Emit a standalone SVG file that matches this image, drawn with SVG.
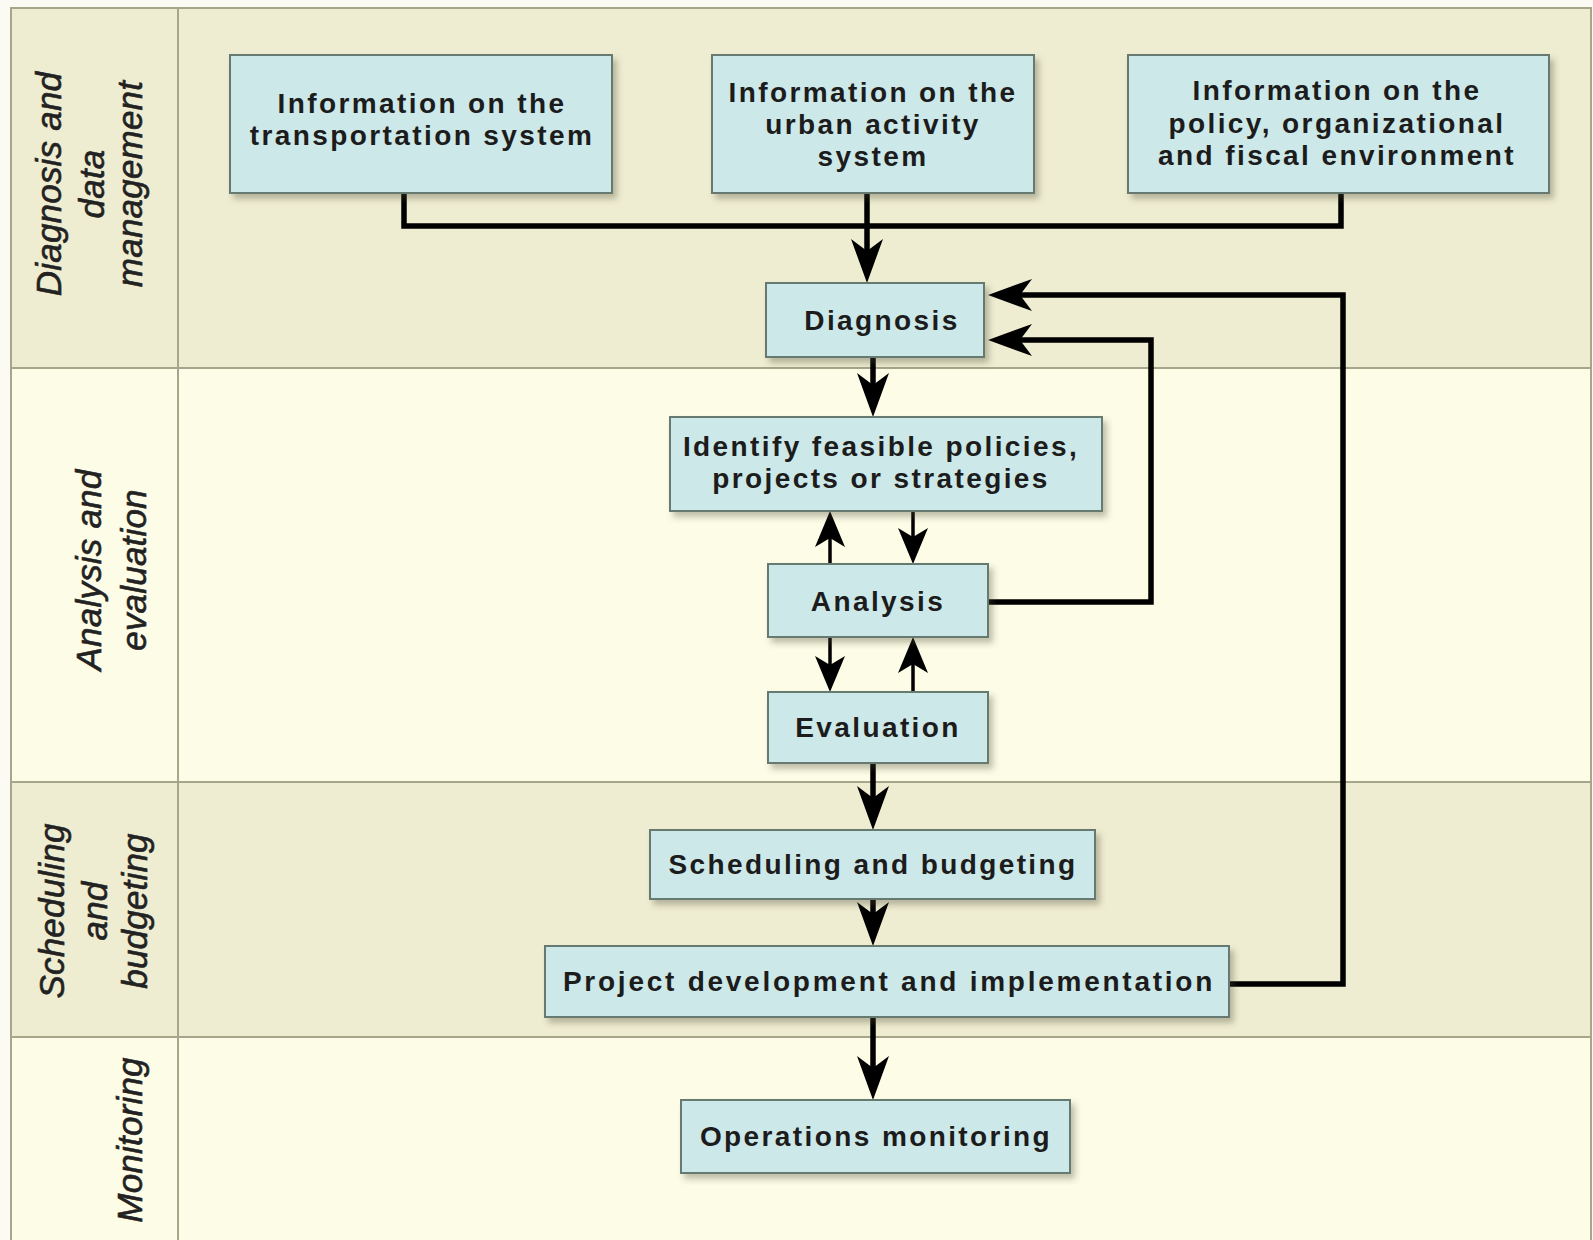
<svg xmlns="http://www.w3.org/2000/svg" width="1593" height="1240" viewBox="0 0 1593 1240">
  <style>
    .lane-a { fill: #efedd1; }
    .lane-b { fill: #fdfce6; }
    .grid { stroke: #a6a68a; stroke-width: 2; fill: none; }
    .box { fill: #cde8e8; stroke: #667a72; stroke-width: 2; filter: url(#shadow); }
    .t { font-family: "Liberation Sans", Arial, sans-serif; font-weight: bold; font-size: 28px; letter-spacing: 2.4px; fill: #1c1c1c; text-anchor: middle; }
    .wide { letter-spacing: 2.75px; }
    .lane-label { font-family: "Liberation Sans", Arial, sans-serif; font-style: italic; font-size: 35px; letter-spacing: 0.2px; fill: #222; stroke: #222; stroke-width: 0.6; text-anchor: middle; }
    .wire { stroke: #000; stroke-width: 5.5; fill: none; stroke-linejoin: miter; }
    .wire-thin { stroke: #000; stroke-width: 3.5; fill: none; }
    .big { marker-end: url(#head-big); }
    .small { marker-end: url(#head-small); }
  </style>
  <defs>
    <filter id="shadow" x="-10%" y="-10%" width="125%" height="135%">
      <feDropShadow dx="4" dy="5" stdDeviation="3" flood-color="#4a4a30" flood-opacity="0.35"/>
    </filter>
    <!-- barbed arrowheads; the line ends inside the head so the tip stays sharp -->
    <marker id="head-big" markerUnits="userSpaceOnUse" viewBox="0 -16 44 32" markerWidth="44" markerHeight="32" refX="24" refY="0" orient="auto">
      <path d="M0,-16 L44,0 L0,16 L12,0 Z" fill="#000"/>
    </marker>
    <marker id="head-small" markerUnits="userSpaceOnUse" viewBox="0 -15 36 30" markerWidth="36" markerHeight="30" refX="20" refY="0" orient="auto">
      <path d="M0,-15 L36,0 L0,15 L9,0 Z" fill="#000"/>
    </marker>
  </defs>

  <rect x="0" y="0" width="1593" height="1240" fill="#fbfbf4"/>

  <!-- swimlanes -->
  <g id="lanes">
    <rect class="lane-a" x="11" y="8" width="1580" height="360"/>
    <rect class="lane-b" x="11" y="368" width="1580" height="414"/>
    <rect class="lane-a" x="11" y="782" width="1580" height="255"/>
    <rect class="lane-b" x="11" y="1037" width="1580" height="210"/>
    <path class="grid" d="M11,1245 V8 H1591 V1245 M178,8 V1245 M11,368 H1591 M11,782 H1591 M11,1037 H1591"/>
  </g>

  <!-- lane titles -->
  <g id="lane-titles">
    <text class="lane-label" transform="translate(61,184) rotate(-90)">Diagnosis and</text>
    <text class="lane-label" transform="translate(104,184) rotate(-90)">data</text>
    <text class="lane-label" transform="translate(142,184) rotate(-90)">management</text>
    <text class="lane-label" transform="translate(101,570) rotate(-90)">Analysis and</text>
    <text class="lane-label" transform="translate(146,570) rotate(-90)">evaluation</text>
    <text class="lane-label" transform="translate(64,911) rotate(-90)">Scheduling</text>
    <text class="lane-label" transform="translate(107,911) rotate(-90)">and</text>
    <text class="lane-label" transform="translate(147,911) rotate(-90)">budgeting</text>
    <text class="lane-label" transform="translate(142,1140) rotate(-90)">Monitoring</text>
  </g>

  <!-- connectors -->
  <g id="connectors">
    <path class="wire" d="M404,193 V226 H1341 V193"/>
    <path class="wire big" d="M867,193 V263"/>
    <path class="wire big" d="M873,357 V397"/>
    <path class="wire-thin small" d="M830,564 V527"/>
    <path class="wire-thin small" d="M913,511 V548"/>
    <path class="wire-thin small" d="M830,637 V676"/>
    <path class="wire-thin small" d="M913,692 V653"/>
    <path class="wire big" d="M873,763 V810"/>
    <path class="wire big" d="M873,899 V926"/>
    <path class="wire big" d="M873,1017 V1080"/>
    <path class="wire big" d="M988,602 H1151 V340 H1008"/>
    <path class="wire big" d="M1229,984 H1343 V295 H1008"/>
  </g>

  <!-- nodes -->
  <g id="info-transport">
    <rect class="box" x="230" y="55" width="382" height="138"/>
    <text class="t" x="422" y="113">Information on the</text>
    <text class="t" x="422" y="145">transportation system</text>
  </g>
  <g id="info-urban">
    <rect class="box" x="712" y="55" width="322" height="138"/>
    <text class="t" x="873" y="102">Information on the</text>
    <text class="t" x="873" y="134">urban activity</text>
    <text class="t" x="873" y="166">system</text>
  </g>
  <g id="info-policy">
    <rect class="box" x="1128" y="55" width="421" height="138"/>
    <text class="t" x="1337" y="100">Information on the</text>
    <text class="t" x="1337" y="133">policy, organizational</text>
    <text class="t" x="1337" y="165">and fiscal environment</text>
  </g>
  <g id="diagnosis">
    <rect class="box" x="766" y="283" width="218" height="74"/>
    <text class="t" x="882" y="330">Diagnosis</text>
  </g>
  <g id="identify">
    <rect class="box" x="670" y="417" width="432" height="94"/>
    <text class="t" x="881" y="456">Identify feasible policies,</text>
    <text class="t" x="881" y="488">projects or strategies</text>
  </g>
  <g id="analysis">
    <rect class="box" x="768" y="564" width="220" height="73"/>
    <text class="t" x="878" y="611">Analysis</text>
  </g>
  <g id="evaluation">
    <rect class="box" x="768" y="692" width="220" height="71"/>
    <text class="t" x="878" y="737">Evaluation</text>
  </g>
  <g id="scheduling">
    <rect class="box" x="650" y="830" width="445" height="69"/>
    <text class="t" x="873" y="874">Scheduling and budgeting</text>
  </g>
  <g id="project">
    <rect class="box" x="545" y="946" width="684" height="71"/>
    <text class="t wide" x="889" y="991">Project development and implementation</text>
  </g>
  <g id="operations">
    <rect class="box" x="681" y="1100" width="389" height="73"/>
    <text class="t" x="876" y="1146">Operations monitoring</text>
  </g>
</svg>
